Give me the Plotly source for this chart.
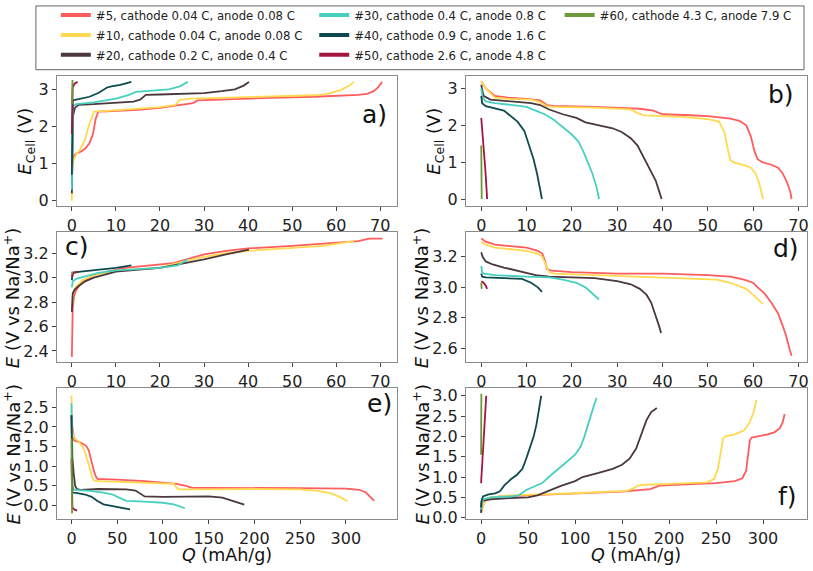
import plotly.graph_objects as go

# ---------------- data ----------------
NAMES = ["#5, cathode 0.04 C, anode 0.08 C", "#10, cathode 0.04 C, anode 0.08 C",
         "#20, cathode 0.2 C, anode 0.4 C", "#30, cathode 0.4 C, anode 0.8 C",
         "#40, cathode 0.9 C, anode 1.6 C", "#50, cathode 2.6 C, anode 4.8 C",
         "#60, cathode 4.3 C, anode 7.9 C"]
COLORS = ["#ff5c5e", "#ffd94f", "#4b383c", "#47d0c0", "#0e4a4e", "#a3163e", "#6b9a3a"]

# panel a: full cell charge
A_Q5 = [0, 0.1, 0.4, 1, 2, 3, 4, 4.8, 5.4, 6, 8, 15, 20, 25, 27.5, 28.5, 35, 45, 55, 62, 65, 67, 68.5, 69.5, 70.4]
A_E5 = [0.3, 1.0, 1.2, 1.27, 1.32, 1.4, 1.55, 1.8, 2.2, 2.4, 2.41, 2.45, 2.5, 2.58, 2.63, 2.7, 2.73, 2.77, 2.8, 2.83, 2.85, 2.88, 2.95, 3.05, 3.2]
A_Q10 = [0, 0.1, 0.4, 1, 2, 3, 3.8, 4.3, 5, 8, 15, 20, 23.5, 24.5, 27, 35, 45, 55, 58, 61, 63, 64]
A_E10 = [0.0, 0.9, 1.1, 1.25, 1.4, 1.65, 2.0, 2.15, 2.4, 2.42, 2.47, 2.52, 2.58, 2.72, 2.75, 2.78, 2.8, 2.84, 2.88, 2.98, 3.1, 3.2]
A_Q20 = [0, 0.1, 0.3, 0.7, 1.5, 5, 10, 14, 15.5, 16.8, 20, 25, 30, 34, 37, 39, 40.2]
A_E20 = [0.2, 1.8, 2.3, 2.5, 2.58, 2.6, 2.63, 2.67, 2.72, 2.85, 2.86, 2.88, 2.9, 2.95, 3.0, 3.1, 3.2]
A_Q30 = [0, 0.1, 0.3, 1, 5, 10, 13, 14.5, 17, 22, 24.5, 25.5, 26.3]
A_E30 = [0.3, 1.5, 2.55, 2.6, 2.65, 2.75, 2.85, 2.93, 2.96, 3.0, 3.08, 3.15, 3.2]
A_Q40 = [0, 0.05, 0.2, 1, 4, 6, 8, 9, 11, 13.5]
A_E40 = [0.7, 2.0, 2.7, 2.72, 2.8, 2.9, 3.05, 3.08, 3.12, 3.2]
A_Q50 = [0, 0.05, 0.2, 0.6, 1.3]
A_E50 = [1.8, 2.8, 3.05, 3.15, 3.2]
A_Q60 = [0, 0.05, 0.15]
A_E60 = [2.6, 3.0, 3.25]

# panel b: full cell discharge
B_Q5 = [0, 1, 3, 6, 10, 13, 14.5, 16, 25, 35, 38, 40, 45, 50, 55, 57, 58.5, 59.5, 60.3, 61, 62, 64, 65.5, 66.5, 67.5, 68.2, 68.5]
B_E5 = [3.2, 3.0, 2.8, 2.75, 2.72, 2.68, 2.55, 2.53, 2.5, 2.45, 2.4, 2.3, 2.28, 2.25, 2.18, 2.12, 2.0, 1.7, 1.3, 1.08, 1.0, 0.93, 0.85, 0.7, 0.45, 0.2, 0.0]
B_Q10 = [0, 1, 3, 6, 11, 12.5, 14.5, 16, 25, 33, 34.5, 36, 45, 50, 52.5, 53.7, 54.5, 55, 56, 58, 59.5, 60.5, 61.3, 62, 62.2]
B_E10 = [3.2, 3.0, 2.75, 2.72, 2.7, 2.65, 2.52, 2.5, 2.48, 2.43, 2.33, 2.27, 2.22, 2.17, 2.1, 1.8, 1.3, 1.05, 0.98, 0.92, 0.85, 0.7, 0.45, 0.15, 0.0]
B_Q20 = [0, 0.5, 2, 5, 8, 11, 13, 15, 18, 21, 23, 26, 29, 31, 33, 34.5, 36, 37.5, 38.5, 39.3, 39.8]
B_E20 = [3.1, 2.8, 2.7, 2.67, 2.64, 2.6, 2.55, 2.43, 2.3, 2.2, 2.08, 2.0, 1.92, 1.82, 1.65, 1.45, 1.1, 0.75, 0.5, 0.2, 0.0]
B_Q30 = [0, 0.3, 1, 3, 7, 10, 12, 14, 16, 18, 20, 21.5, 22.5, 23.5, 24.5, 25.5, 26]
B_E30 = [3.0, 2.75, 2.65, 2.6, 2.55, 2.5, 2.4, 2.3, 2.15, 1.95, 1.75, 1.55, 1.3, 1.0, 0.7, 0.3, 0.0]
B_Q40 = [0, 0.2, 1, 3, 5, 6, 8, 9.5, 10.5, 11.5, 12.3, 12.9, 13.4]
B_E40 = [2.8, 2.6, 2.52, 2.47, 2.4, 2.3, 2.1, 1.85, 1.5, 1.1, 0.7, 0.3, 0.0]
B_Q50 = [0, 0.4, 0.9, 1.3]
B_E50 = [2.2, 1.6, 0.8, 0.0]
B_Q60 = [0, 0.05, 0.1]
B_E60 = [1.45, 0.7, 0.0]

# panel c: cathode charge
C_Q5 = [0, 0.2, 0.5, 1, 2, 3.5, 5, 8, 12, 18, 23, 26, 30, 35, 40, 50, 58, 65, 67.5, 70.5]
C_E5 = [2.35, 2.75, 2.85, 2.9, 2.95, 2.99, 3.02, 3.05, 3.08, 3.1, 3.12, 3.15, 3.19, 3.22, 3.24, 3.26, 3.28, 3.3, 3.32, 3.32]
C_Q10 = [0, 0.3, 1, 2.5, 5, 10, 20, 24, 26, 30, 35, 40, 50, 57, 64]
C_E10 = [2.75, 2.88, 2.93, 2.98, 3.02, 3.06, 3.08, 3.12, 3.14, 3.17, 3.2, 3.22, 3.24, 3.26, 3.3]
C_Q20 = [0, 0.2, 0.6, 1.5, 3, 5, 10, 17, 20, 23, 26, 30, 35, 40.2]
C_E20 = [2.72, 2.87, 2.9, 2.93, 2.97, 3.0, 3.05, 3.07, 3.08, 3.1, 3.12, 3.15, 3.19, 3.23]
C_Q30 = [0, 0.2, 1, 3, 6, 10, 15, 20, 24, 26.3]
C_E30 = [2.92, 2.97, 2.99, 3.01, 3.04, 3.06, 3.07, 3.08, 3.1, 3.15]
C_Q40 = [0, 0.2, 2, 5, 10, 13.5]
C_E40 = [2.98, 3.04, 3.05, 3.06, 3.08, 3.1]
C_Q50 = [0, 0.3, 1.3]
C_E50 = [3.0, 3.04, 3.05]
C_Q60 = [0, 0.1]
C_E60 = [3.03, 3.05]

# panel d: cathode discharge
D_Q5 = [0, 1, 3, 7, 10, 12.5, 13.5, 14, 14.5, 15.5, 20, 30, 40, 50, 55, 58, 60, 61, 62.5, 64, 65.5, 66.5, 67.3, 68, 68.5]
D_E5 = [3.32, 3.3, 3.28, 3.27, 3.26, 3.24, 3.22, 3.18, 3.12, 3.11, 3.1, 3.09, 3.09, 3.08, 3.07, 3.05, 3.03, 3.0, 2.96, 2.9, 2.83, 2.75, 2.68, 2.6, 2.55]
D_Q10 = [0, 1, 3, 7, 10, 12.5, 13.5, 14.2, 15, 16, 25, 35, 45, 52, 55, 57, 58.5, 60, 61.5, 62.2]
D_E10 = [3.3, 3.28, 3.26, 3.25, 3.24, 3.22, 3.2, 3.15, 3.1, 3.09, 3.08, 3.07, 3.06, 3.05, 3.03, 3.01, 2.99, 2.95, 2.91, 2.89]
D_Q20 = [0, 0.3, 1, 2.5, 5, 9, 12, 15, 20, 25, 30, 33, 35, 36.5, 37.5, 38.5, 39.2, 39.7]
D_E20 = [3.23, 3.2, 3.17, 3.15, 3.13, 3.1, 3.08, 3.07, 3.065, 3.06, 3.04, 3.02, 2.99, 2.95, 2.9, 2.82, 2.75, 2.7]
D_Q30 = [0, 0.2, 0.6, 3, 10, 15, 18, 21, 23, 24.5, 26]
D_E30 = [3.14, 3.1, 3.09, 3.08, 3.07, 3.065, 3.05, 3.03, 3.0, 2.96, 2.92]
D_Q40 = [0, 0.2, 1, 5, 9, 11, 12.5, 13.4]
D_E40 = [3.09, 3.07, 3.065, 3.06, 3.055, 3.03, 3.0, 2.97]
D_Q50 = [0, 0.5, 1, 1.3]
D_E50 = [3.04, 3.03, 3.01, 2.99]
D_Q60 = [0, 0.1]
D_E60 = [3.03, 2.99]

# panel e: anode sodiation
E_Q5 = [0, 1, 3, 10, 16, 19, 21, 23, 25, 27, 29, 35, 50, 80, 100, 115, 125, 132, 150, 200, 250, 300, 315, 322, 327, 331]
E_E5 = [2.3, 2.0, 1.65, 1.6, 1.52, 1.4, 1.2, 1.0, 0.85, 0.72, 0.67, 0.67, 0.66, 0.62, 0.59, 0.55, 0.5, 0.45, 0.45, 0.45, 0.44, 0.43, 0.4, 0.33, 0.22, 0.12]
E_Q10 = [0, 0.5, 1.5, 4, 8, 12, 15, 18, 21, 23, 25, 30, 50, 80, 100, 112, 115, 118, 150, 200, 250, 270, 285, 295, 302]
E_E10 = [2.8, 2.0, 1.8, 1.7, 1.62, 1.5, 1.35, 1.1, 0.85, 0.7, 0.63, 0.62, 0.6, 0.58, 0.57, 0.55, 0.45, 0.41, 0.41, 0.42, 0.41, 0.37, 0.3, 0.2, 0.1]
E_Q20 = [0, 0.5, 1, 2.5, 4, 6, 10, 30, 60, 70, 75, 80, 100, 130, 150, 165, 175, 183, 189]
E_E20 = [2.3, 1.6, 1.2, 0.8, 0.5, 0.42, 0.4, 0.42, 0.41, 0.38, 0.3, 0.23, 0.22, 0.23, 0.23, 0.2, 0.13, 0.06, 0.02]
E_Q30 = [0, 0.3, 1, 3, 10, 20, 35, 45, 52, 60, 80, 100, 112, 120, 124]
E_E30 = [2.6, 1.0, 0.5, 0.4, 0.38, 0.37, 0.33, 0.28, 0.2, 0.12, 0.1, 0.07, 0.03, -0.03, -0.07]
E_Q40 = [0, 0.3, 1, 5, 15, 22, 28, 35, 45, 55, 64]
E_E40 = [2.3, 1.0, 0.33, 0.32, 0.28, 0.22, 0.12, 0.03, -0.02, -0.06, -0.1]
E_Q50 = [0, 0.3, 1, 3, 6]
E_E50 = [1.2, 0.3, -0.05, -0.1, -0.13]
E_Q60 = [0, 0.3, 0.6]
E_E60 = [1.7, 0.5, -0.2]

# panel f: anode desodiation
F_Q5 = [0, 2, 5, 10, 20, 50, 100, 150, 180, 186, 190, 200, 250, 270, 278, 282, 284, 286, 288, 295, 305, 312, 318, 321, 323]
F_E5 = [0.12, 0.3, 0.42, 0.48, 0.52, 0.55, 0.59, 0.64, 0.7, 0.75, 0.79, 0.8, 0.85, 0.9, 0.97, 1.15, 1.5, 1.9, 1.97, 2.0, 2.05, 2.1, 2.2, 2.35, 2.55]
F_Q10 = [0, 2, 5, 10, 30, 100, 155, 162, 167, 175, 200, 240, 248, 252, 255, 257.5, 260, 270, 280, 286, 290, 293]
F_E10 = [0.15, 0.3, 0.42, 0.5, 0.55, 0.6, 0.66, 0.72, 0.79, 0.81, 0.83, 0.87, 0.95, 1.2, 1.6, 1.95, 2.0, 2.05, 2.15, 2.35, 2.6, 2.9]
F_Q20 = [0, 0.5, 2, 10, 30, 50, 60, 70, 85, 100, 108, 125, 140, 150, 158, 165, 170, 176, 181, 187]
F_E20 = [0.12, 0.35, 0.42, 0.45, 0.48, 0.5, 0.55, 0.65, 0.78, 0.9, 1.0, 1.1, 1.2, 1.3, 1.45, 1.7, 2.0, 2.4, 2.6, 2.7]
F_Q30 = [0, 0.5, 2, 10, 30, 40, 48, 55, 65, 72, 80, 90, 100, 106, 110, 115, 120, 123]
F_E30 = [0.2, 0.35, 0.45, 0.5, 0.52, 0.55, 0.68, 0.75, 0.85, 1.0, 1.15, 1.35, 1.55, 1.75, 2.0, 2.4, 2.75, 2.95]
F_Q40 = [0, 0.3, 2, 8, 15, 20, 25, 32, 38, 44, 48, 52, 56, 59, 62, 64]
F_E40 = [0.25, 0.4, 0.52, 0.57, 0.6, 0.65, 0.8, 0.95, 1.05, 1.2, 1.45, 1.7, 2.0, 2.3, 2.7, 3.0]
F_Q50 = [0, 1, 2.5, 4, 5.5]
F_E50 = [0.85, 1.3, 2.0, 2.6, 3.0]
F_Q60 = [0, 0.15, 0.3]
F_E60 = [1.55, 2.3, 3.05]

PANELS = [
    ("a", [A_Q5, A_Q10, A_Q20, A_Q30, A_Q40, A_Q50, A_Q60], [A_E5, A_E10, A_E20, A_E30, A_E40, A_E50, A_E60]),
    ("b", [B_Q5, B_Q10, B_Q20, B_Q30, B_Q40, B_Q50, B_Q60], [B_E5, B_E10, B_E20, B_E30, B_E40, B_E50, B_E60]),
    ("c", [C_Q5, C_Q10, C_Q20, C_Q30, C_Q40, C_Q50, C_Q60], [C_E5, C_E10, C_E20, C_E30, C_E40, C_E50, C_E60]),
    ("d", [D_Q5, D_Q10, D_Q20, D_Q30, D_Q40, D_Q50, D_Q60], [D_E5, D_E10, D_E20, D_E30, D_E40, D_E50, D_E60]),
    ("e", [E_Q5, E_Q10, E_Q20, E_Q30, E_Q40, E_Q50, E_Q60], [E_E5, E_E10, E_E20, E_E30, E_E40, E_E50, E_E60]),
    ("f", [F_Q5, F_Q10, F_Q20, F_Q30, F_Q40, F_Q50, F_Q60], [F_E5, F_E10, F_E20, F_E30, F_E40, F_E50, F_E60]),
]

XT_SHORT = [0, 10, 20, 30, 40, 50, 60, 70]
XT_LONG = [0, 50, 100, 150, 200, 250, 300]

# ---------------- layout geometry ----------------
W, H = 813, 571
FONT = "DejaVu Sans"
LFONT = "DejaVu Sans Condensed, DejaVu Sans"
XCOL = [(57, 398), (467, 809)]
YROW = [(74, 207), (234, 366), (393, 526)]
XRANGES = {"a": [-3.4, 73.8], "b": [-3.4, 71.9], "c": [-3.4, 73.8], "d": [-3.4, 71.9],
           "e": [-16, 356], "f": [-16.2, 346.8]}
YRANGES = {"a": [-0.14, 3.37], "b": [-0.19, 3.35], "c": [2.31, 3.37], "d": [2.51, 3.36],
           "e": [-0.34, 2.98], "f": [-0.03, 3.18]}
YTICKS = {"a": [0, 1, 2, 3], "b": [0, 1, 2, 3], "c": [2.4, 2.6, 2.8, 3.0, 3.2],
          "d": [2.6, 2.8, 3.0, 3.2], "e": [0, 0.5, 1, 1.5, 2, 2.5], "f": [0, 0.5, 1, 1.5, 2, 2.5, 3]}
YFMT = {"a": "d", "b": "d", "c": ".1f", "d": ".1f", "e": ".1f", "f": ".1f"}
LABEL_POS = {"a": (375, 114), "b": (783, 93), "c": (77, 248), "d": (788, 250), "e": (380, 408), "f": (789, 503)}

fig = go.Figure()
layout = dict(width=W, height=H, margin=dict(l=0, r=0, t=0, b=0),
              paper_bgcolor="white", plot_bgcolor="white", showlegend=True,
              font=dict(family=FONT, size=16, color="#222"))
annotations = []
shapes = []

for i, (name, qs, es) in enumerate(PANELS):
    col = i % 2
    row = i // 2
    k = i + 1
    xa = "xaxis" if k == 1 else f"xaxis{k}"
    ya = "yaxis" if k == 1 else f"yaxis{k}"
    xr = "x" if k == 1 else f"x{k}"
    yr = "y" if k == 1 else f"y{k}"
    x0, x1 = XCOL[col]
    yt, yb = YROW[row]
    layout[xa] = dict(domain=[x0 / W, x1 / W], range=XRANGES[name], anchor=yr,
                      showline=True, linecolor="#8a8a8a", linewidth=1, mirror=True,
                      ticks="outside", ticklen=4, tickcolor="#444", showgrid=False, zeroline=False,
                      tickvals=XT_SHORT if row < 2 else XT_LONG, ticklabelstandoff=1,
                      tickfont=dict(family=FONT, size=16, color="#222"))
    layout[ya] = dict(domain=[1 - yb / H, 1 - yt / H], range=YRANGES[name], anchor=xr,
                      showline=True, linecolor="#8a8a8a", linewidth=1, mirror=True,
                      ticks="outside", ticklen=4, tickcolor="#444", showgrid=False, zeroline=False,
                      tickvals=YTICKS[name], tickformat=YFMT[name],
                      tickfont=dict(family=FONT, size=16, color="#222"))
    for j in range(7):
        fig.add_trace(go.Scatter(x=qs[j], y=es[j], mode="lines", xaxis=xr, yaxis=yr,
                                 line=dict(color=COLORS[j], width=1.8), showlegend=False,
                                 name=NAMES[j]))
    lx, ly = LABEL_POS[name]
    annotations.append(dict(text=name + ")", x=lx / W, y=1 - ly / H, xref="paper", yref="paper",
                            showarrow=False, xanchor="center", yanchor="middle",
                            font=dict(family=FONT, size=25, color="#111")))
    # y titles
    ycen = 1 - (yt + yb) / 2 / H
    if row == 0:
        ytxt = "<i>E</i><sub>Cell</sub> (V)"
        tx = 26 if col == 0 else 436
    else:
        ytxt = "<i>E</i> (V vs Na/Na<sup>+</sup>)"
        tx = 12 if col == 0 else 422
    annotations.append(dict(text=ytxt, x=tx / W, y=ycen, xref="paper", yref="paper",
                            showarrow=False, textangle=-90, xanchor="center", yanchor="middle",
                            font=dict(family=FONT, size=18, color="#111")))
    if row == 2:
        annotations.append(dict(text="<i>Q</i> (mAh/g)", x=(x0 + x1) / 2 / W, y=1 - 552 / H,
                                xref="paper", yref="paper", showarrow=False,
                                xanchor="center", yanchor="top", borderpad=0,
                                font=dict(family=FONT, size=17.5, color="#111")))

# legend entries (three column legends)
LEG_GROUP = ["legend", "legend", "legend", "legend2", "legend2", "legend2", "legend3"]
for j in range(7):
    fig.add_trace(go.Scatter(x=[None], y=[None], mode="lines", name=NAMES[j],
                             line=dict(color=COLORS[j], width=4), legend=LEG_GROUP[j],
                             showlegend=True))

leg_common = dict(bgcolor="rgba(0,0,0,0)", borderwidth=0, xanchor="left", yanchor="top",
                  font=dict(family=LFONT, size=13, color="#222"), tracegroupgap=0,
                  itemwidth=30, traceorder="normal")
LEG_Y = 1 + 3 / H
layout["legend"] = dict(x=56 / W, y=LEG_Y, **leg_common)
layout["legend2"] = dict(x=315 / W, y=LEG_Y, **leg_common)
layout["legend3"] = dict(x=561 / W, y=LEG_Y, **leg_common)
shapes.append(dict(type="rect", xref="paper", yref="paper", x0=36 / W, x1=806 / W,
                   y0=1 - 68 / H, y1=1 - 3 / H, line=dict(color="#666", width=1)))

layout["annotations"] = annotations
layout["shapes"] = shapes
fig.update_layout(**layout)
fig.write_html("out.html")
